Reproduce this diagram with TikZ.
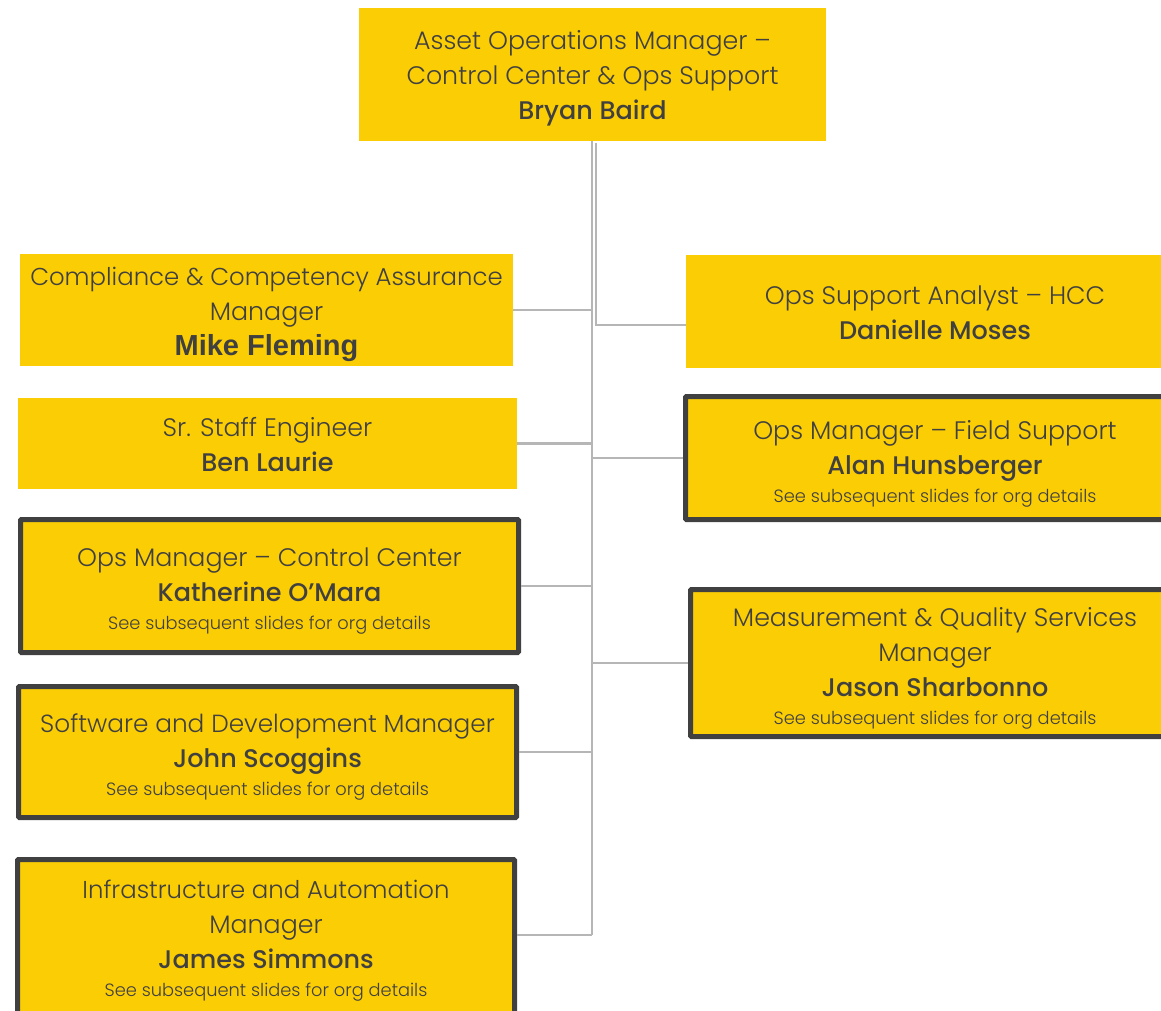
\documentclass[tikz,border=0pt]{standalone}
\usepackage{fontspec}
\setmainfont{Poppins}[UprightFont=* Light, BoldFont=* Medium]
\newfontfamily\arialfont{Liberation Sans}
\definecolor{boxyellow}{HTML}{FBCD05}
\definecolor{boxedge}{HTML}{404040}
\definecolor{txt}{HTML}{404040}
\definecolor{conn}{HTML}{B6B6B6}
\newcommand{\mainsz}{\fontsize{25.3}{35}\selectfont}
\newcommand{\namesz}{\fontsize{25.5}{35}\selectfont\bfseries}
\newcommand{\smallsz}{\fontsize{17.8}{30}\selectfont}
% #1 = how far the text block sits below the box centre
\newcommand{\boxtext}[2]{\begin{tabular}{@{}c@{}}\rule{0pt}{\dimexpr24.5pt+2\dimexpr#1\relax\relax}#2\end{tabular}}
\newcommand{\seemore}{\\[-7pt]{\smallsz See subsequent slides for org details}}
\begin{document}
\begin{tikzpicture}[x=1pt,y=-1pt,
  orgbox/.style={fill=boxyellow, draw=none, text=txt, inner sep=0pt,
    font=\mainsz, anchor=center},
  framed/.style={orgbox, draw=boxedge, line width=5pt, rounded corners=1pt},
  link/.style={draw=conn, line width=2.5pt}]
\useasboundingbox (0,0) rectangle (1161,1010);

\node[orgbox, minimum width=467pt, minimum height=133pt] (top) at (592.5,74.5)
  {\boxtext{2.5pt}{Asset Operations Manager –\\Control Center \& Ops Support\\{\namesz Bryan Baird}}};

\node[orgbox, minimum width=493pt, minimum height=110pt] (comp) at (266.5,310)
  {\boxtext{3.5pt}{{\fontsize{24.4}{35}\selectfont Compliance \& Competency Assurance}\\Manager\\{\fontsize{29}{35}\arialfont\bfseries Mike Fleming}}};

\node[orgbox, minimum width=499pt, minimum height=91pt] (sr) at (267.5,443.5)
  {\boxtext{3pt}{Sr. Staff Engineer\\{\namesz Ben Laurie}}};

\node[framed, minimum width=498pt, minimum height=133pt] (opscc) at (269.5,586)
  {\boxtext{4.5pt}{Ops Manager – Control Center\\{\namesz Katherine O’Mara}\seemore}};

\node[framed, minimum width=498pt, minimum height=131pt] (soft) at (267.5,752)
  {\boxtext{4.5pt}{{\fontsize{24.8}{35}\selectfont Software and Development Manager}\\{\namesz John Scoggins}\seemore}};

\node[framed, minimum width=497pt, minimum height=157pt] (infra) at (266,938)
  {\boxtext{2.5pt}{{\fontsize{24.4}{35}\selectfont Infrastructure and Automation}\\Manager\\{\namesz James Simmons}\seemore}};

\node[orgbox, minimum width=498pt, minimum height=113pt] (analyst) at (935,311.5)
  {\boxtext{3.5pt}{Ops Support Analyst – HCC\\{\namesz Danielle Moses}}};

\node[framed, minimum width=499pt, minimum height=123pt] (field) at (935,458)
  {\boxtext{6pt}{Ops Manager – Field Support\\{\namesz Alan Hunsberger}\seemore}};

\node[framed, minimum width=489pt, minimum height=147pt] (meas) at (935,663)
  {\boxtext{5.5pt}{Measurement \& Quality Services\\Manager\\{\namesz Jason Sharbonno}\seemore}};

\coordinate (v0) at (592,141);
\coordinate (vb) at (592,935);
\coordinate (v1) at (596,143);

\draw[link] (v0) -- (vb);
\draw[link] (v1) |- ([yshift=-13.5pt]analyst.west);
\draw[link] (comp.east) -- (comp.east -| v0);
\draw[link] (sr.east) -- (sr.east -| v0);
\draw[link] (opscc.east) -- (opscc.east -| v0);
\draw[link] (soft.east) -- (soft.east -| v0);
\draw[link] ([yshift=3pt]infra.east) -- ([yshift=3pt]infra.east -| v0);
\draw[link] (field.west) -- (field.west -| v0);
\draw[link] (meas.west) -- (meas.west -| v0);
\end{tikzpicture}
\end{document}
